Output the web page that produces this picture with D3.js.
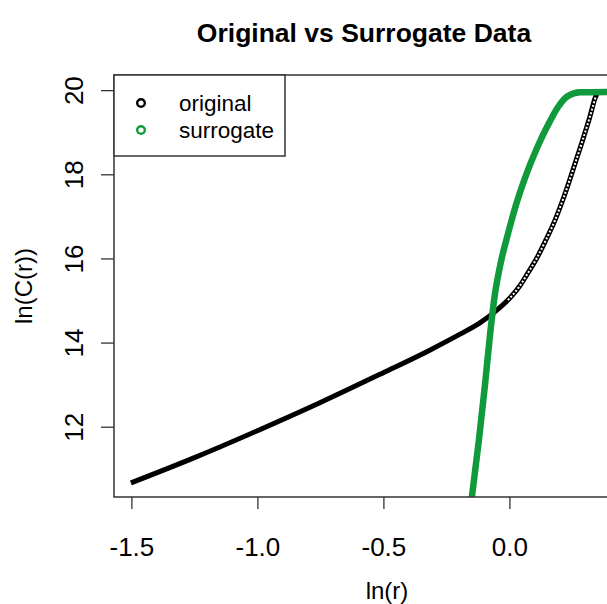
<!DOCTYPE html>
<html>
<head>
<meta charset="utf-8">
<script src="https://cdn.jsdelivr.net/npm/d3@7"></script>
<style>
  html, body { margin: 0; padding: 0; background: #fff; }
  svg { display: block; }
  text { font-family: "Liberation Sans", Arial, sans-serif; }
</style>
</head>
<body>
<div id="chart"></div>
<script>
// ---- data ----
const chartTitle = "Original vs Surrogate Data";
const xLabel = "ln(r)";
const yLabel = "ln(C(r))";
const xTicks = [-1.5, -1.0, -0.5, 0.0];
const yTicks = [12, 14, 16, 18, 20];
const seriesNames = ["original", "surrogate"];
const seriesColors = ["#000000", "#109a3c"];

const originalX = [-1.502, -1.252, -1.002, -0.752, -0.502, -0.316, -0.196, -0.117, -0.058, -0.006, 0.038, 0.073, 0.109, 0.145, 0.181, 0.216, 0.252, 0.288, 0.319, 0.343, 0.359, 0.44];
const originalY = [10.665, 11.26, 11.90, 12.57, 13.28, 13.82, 14.20, 14.47, 14.73, 15.01, 15.32, 15.65, 16.01, 16.44, 16.91, 17.46, 18.10, 18.76, 19.36, 19.86, 19.96, 19.96];

const surrogateX = [-0.156, -0.149, -0.121, -0.097, -0.077, -0.058, -0.034, -0.006, 0.026, 0.066, 0.109, 0.153, 0.193, 0.232, 0.280, 0.44];
const surrogateY = [10.0, 10.33, 11.69, 12.99, 14.18, 15.13, 15.91, 16.58, 17.27, 17.98, 18.62, 19.17, 19.60, 19.86, 19.95, 19.96];

// ---- layout ----
const W = 607, H = 604;
const plot = { left: 114, right: 614, top: 75, bottom: 497 };

const svg = d3.select("#chart").append("svg").attr("width", W).attr("height", H);

const x = d3.scaleLinear().domain([-1.569, 0.415]).range([plot.left, plot.right]);
const y = d3.scaleLinear().domain([10.33, 20.36]).range([plot.bottom, plot.top]);

svg.append("defs").append("clipPath").attr("id", "clip")
  .append("rect").attr("x", plot.left).attr("y", plot.top)
  .attr("width", plot.right - plot.left).attr("height", plot.bottom - plot.top);

// title
svg.append("text").attr("x", (plot.left + plot.right) / 2).attr("y", 42)
  .attr("text-anchor", "middle").attr("font-weight", "bold").attr("font-size", 26.5)
  .text(chartTitle);

// axes
const xAxis = svg.append("g").attr("transform", `translate(0,${plot.bottom})`)
  .call(d3.axisBottom(x).tickValues(xTicks).tickFormat(d => d.toFixed(1)).tickSize(12).tickPadding(29).tickSizeOuter(0));
xAxis.select(".domain").remove();
xAxis.selectAll("text").attr("font-size", 26).attr("fill", "#000").attr("font-family", "Liberation Sans, Arial, sans-serif");
xAxis.selectAll("line").attr("stroke", "#333").attr("stroke-width", 1.3);

const yAxis = svg.append("g").attr("transform", `translate(${plot.left},0)`)
  .call(d3.axisLeft(y).tickValues(yTicks).tickFormat(d => String(d)).tickSize(13).tickSizeOuter(0));
yAxis.select(".domain").remove();
yAxis.selectAll("line").attr("stroke", "#333").attr("stroke-width", 1.3);
yAxis.selectAll("text")
  .attr("font-size", 26).attr("fill", "#000").attr("font-family", "Liberation Sans, Arial, sans-serif")
  .attr("text-anchor", "middle").attr("dy", null)
  .attr("x", null)
  .attr("transform", "translate(-40,0) rotate(-90)")
  .attr("dominant-baseline", "central");

// axis titles
svg.append("text").attr("x", 387).attr("y", 599)
  .attr("text-anchor", "middle").attr("font-size", 24).text(xLabel);
svg.append("text").attr("transform", `translate(32,${(plot.top + plot.bottom) / 2}) rotate(-90)`)
  .attr("text-anchor", "middle").attr("font-size", 24).text(yLabel);

// data
const g = svg.append("g").attr("clip-path", "url(#clip)");
const line = d3.line().x(d => x(d[0])).y(d => y(d[1])).curve(d3.curveMonotoneX);

const orig = originalX.map((v, i) => [v, originalY[i]]);
const surr = surrogateX.map((v, i) => [v, surrogateY[i]]);

g.append("path").datum(orig).attr("d", line)
  .attr("fill", "none").attr("stroke", seriesColors[0]).attr("stroke-width", 5);
// open-circle look on the steep part of the original series
g.append("path").datum(orig.filter(d => d[0] >= -0.01 && d[1] < 19.95)).attr("d", line)
  .attr("fill", "none").attr("stroke", "#fff").attr("stroke-width", 2)
  .attr("stroke-dasharray", "2 1.8");

g.append("path").datum(surr).attr("d", line)
  .attr("fill", "none").attr("stroke", seriesColors[1]).attr("stroke-width", 6.5);

// plot box
svg.append("rect").attr("x", plot.left).attr("y", plot.top)
  .attr("width", plot.right - plot.left).attr("height", plot.bottom - plot.top)
  .attr("fill", "none").attr("stroke", "#333").attr("stroke-width", 1.5);

// legend
const leg = svg.append("g");
leg.append("rect").attr("x", plot.left).attr("y", plot.top).attr("width", 171).attr("height", 81)
  .attr("fill", "#fff").attr("stroke", "#333").attr("stroke-width", 1.5);
seriesNames.forEach((name, i) => {
  const cy = 103 + i * 27;
  leg.append("circle").attr("cx", 141).attr("cy", cy).attr("r", 3.8)
    .attr("fill", "none").attr("stroke", seriesColors[i]).attr("stroke-width", 2.4);
  leg.append("text").attr("x", 179).attr("y", cy).attr("dy", "0.35em")
    .attr("font-size", 22.5).text(name);
});
</script>
</body>
</html>
